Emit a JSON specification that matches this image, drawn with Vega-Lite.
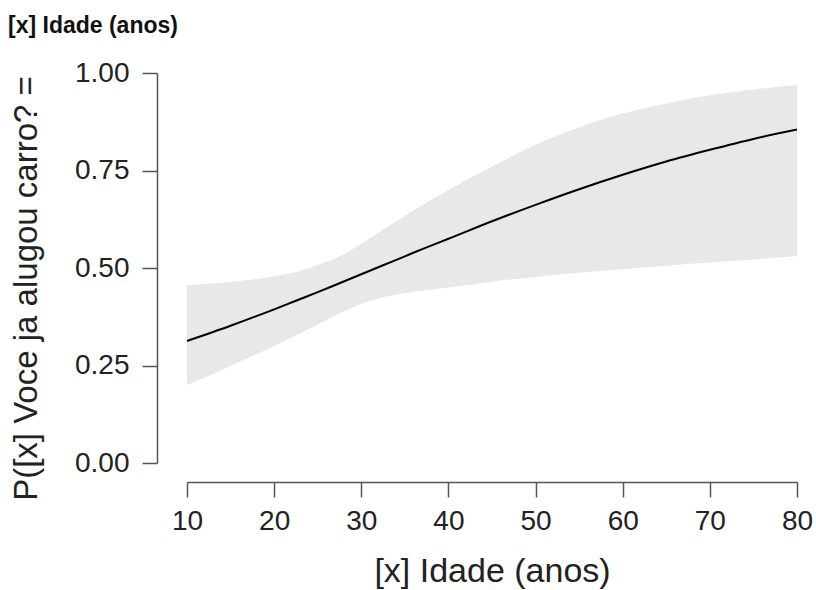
{
  "$schema": "https://vega.github.io/schema/vega-lite/v6.json",
  "width": 610,
  "height": 390,
  "autosize": {"type": "none"},
  "padding": {"left": 187, "top": 73, "right": 19, "bottom": 127},
  "background": "white",
  "title": {
    "text": "[x] Idade (anos)",
    "anchor": "start",
    "frame": "group",
    "dx": -179,
    "offset": 21,
    "fontSize": 23,
    "fontWeight": "bold",
    "font": "Liberation Sans",
    "color": "#111111"
  },
  "config": {
    "view": {"stroke": null},
    "axis": {
      "grid": false,
      "domainColor": "#555555",
      "domainWidth": 1.5,
      "tickColor": "#555555",
      "tickWidth": 1.5,
      "tickSize": 15,
      "labelFont": "Liberation Sans",
      "labelFontSize": 28,
      "labelColor": "#222222",
      "labelFlush": false,
      "labelOverlap": false,
      "titleFont": "Liberation Sans",
      "titleFontSize": 34,
      "titleFontWeight": "normal",
      "titleColor": "#222222"
    }
  },
  "data": {
    "values": [
      {"idade": 10, "p": 0.313, "lower": 0.200, "upper": 0.456},
      {"idade": 15, "p": 0.352, "lower": 0.249, "upper": 0.464},
      {"idade": 20, "p": 0.394, "lower": 0.300, "upper": 0.479},
      {"idade": 22.5, "p": 0.416, "lower": 0.327, "upper": 0.490},
      {"idade": 25, "p": 0.438, "lower": 0.355, "upper": 0.508},
      {"idade": 27.5, "p": 0.461, "lower": 0.384, "upper": 0.530},
      {"idade": 30, "p": 0.484, "lower": 0.408, "upper": 0.562},
      {"idade": 32.5, "p": 0.507, "lower": 0.425, "upper": 0.598},
      {"idade": 35, "p": 0.530, "lower": 0.436, "upper": 0.634},
      {"idade": 37.5, "p": 0.553, "lower": 0.443, "upper": 0.668},
      {"idade": 40, "p": 0.575, "lower": 0.450, "upper": 0.700},
      {"idade": 45, "p": 0.620, "lower": 0.465, "upper": 0.760},
      {"idade": 50, "p": 0.662, "lower": 0.477, "upper": 0.816},
      {"idade": 55, "p": 0.702, "lower": 0.488, "upper": 0.861},
      {"idade": 60, "p": 0.739, "lower": 0.497, "upper": 0.896},
      {"idade": 65, "p": 0.773, "lower": 0.506, "upper": 0.922},
      {"idade": 70, "p": 0.803, "lower": 0.514, "upper": 0.943},
      {"idade": 75, "p": 0.831, "lower": 0.522, "upper": 0.958},
      {"idade": 80, "p": 0.855, "lower": 0.531, "upper": 0.970}
    ]
  },
  "layer": [
    {
      "mark": {"type": "area", "color": "#e8e8e8", "opacity": 1, "interpolate": "monotone"},
      "encoding": {
        "x": {
          "field": "idade",
          "type": "quantitative",
          "scale": {"domain": [10, 80], "nice": false, "zero": false},
          "axis": {
            "values": [10, 20, 30, 40, 50, 60, 70, 80],
            "offset": 19,
            "labelPadding": 10,
            "titlePadding": 19,
            "title": "[x] Idade (anos)"
          }
        },
        "y": {
          "field": "lower",
          "type": "quantitative",
          "scale": {"domain": [0, 1], "nice": false},
          "axis": {
            "values": [0, 0.25, 0.5, 0.75, 1],
            "format": ".2f",
            "offset": 30,
            "labelPadding": 13,
            "titlePadding": 31,
            "titleY": 215,
            "titleFontSize": 33,
            "title": "P([x] Voce ja alugou carro? ="
          }
        },
        "y2": {"field": "upper"}
      }
    },
    {
      "mark": {"type": "line", "color": "#000000", "strokeWidth": 2, "interpolate": "monotone"},
      "encoding": {
        "x": {"field": "idade", "type": "quantitative"},
        "y": {"field": "p", "type": "quantitative"}
      }
    }
  ]
}
